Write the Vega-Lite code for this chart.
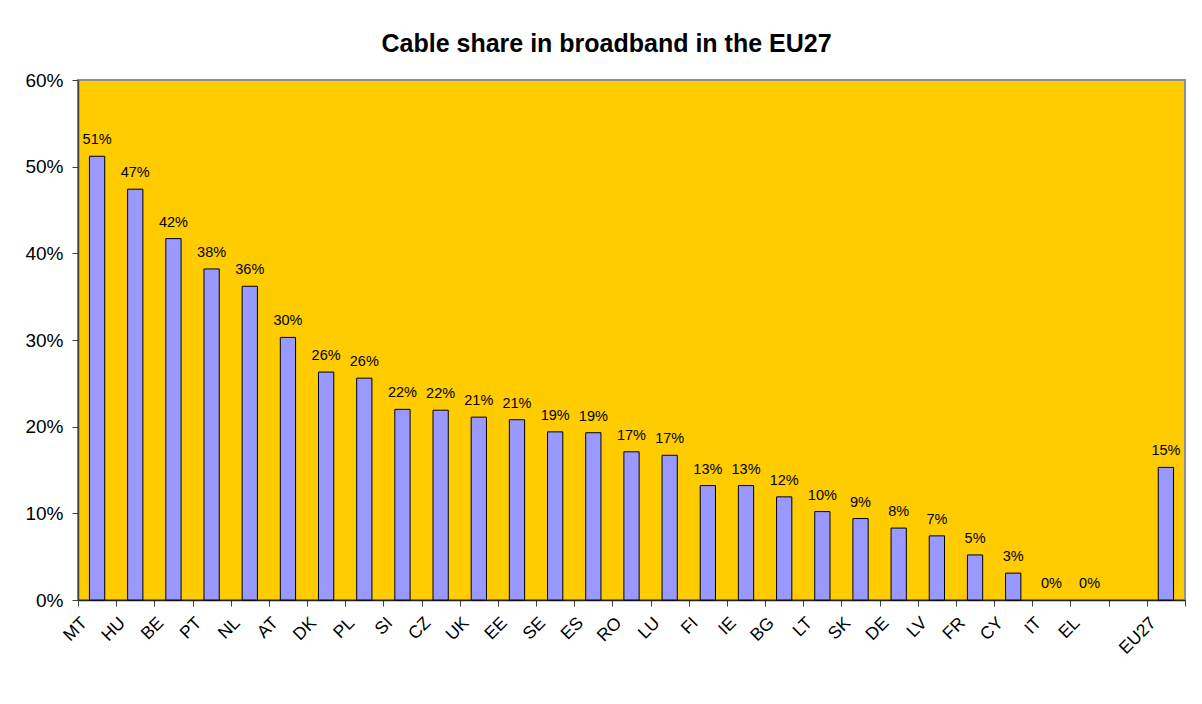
{
  "$schema": "https://vega.github.io/schema/vega-lite/v6.json",
  "width": 1107,
  "height": 520,
  "autosize": {"type": "none"},
  "padding": {"left": 78, "top": 80, "right": 17, "bottom": 104},
  "background": "white",
  "title": {
    "text": "Cable share in broadband in the EU27",
    "font": "Liberation Sans",
    "fontSize": 25,
    "fontWeight": "bold",
    "color": "black",
    "anchor": "middle",
    "dx": -25,
    "offset": 14
  },
  "data": {
    "values": [
      {"country": "MT", "share": 0.512},
      {"country": "HU", "share": 0.474},
      {"country": "BE", "share": 0.417},
      {"country": "PT", "share": 0.382},
      {"country": "NL", "share": 0.362},
      {"country": "AT", "share": 0.303},
      {"country": "DK", "share": 0.263},
      {"country": "PL", "share": 0.256},
      {"country": "SI", "share": 0.220},
      {"country": "CZ", "share": 0.219},
      {"country": "UK", "share": 0.211},
      {"country": "EE", "share": 0.208},
      {"country": "SE", "share": 0.194},
      {"country": "ES", "share": 0.193},
      {"country": "RO", "share": 0.171},
      {"country": "LU", "share": 0.167},
      {"country": "FI", "share": 0.132},
      {"country": "IE", "share": 0.132},
      {"country": "BG", "share": 0.119},
      {"country": "LT", "share": 0.102},
      {"country": "SK", "share": 0.094},
      {"country": "DE", "share": 0.083},
      {"country": "LV", "share": 0.074},
      {"country": "FR", "share": 0.052},
      {"country": "CY", "share": 0.031},
      {"country": "IT", "share": 0.0},
      {"country": "EL", "share": 0.0},
      {"country": "EU27", "share": 0.153}
    ]
  },
  "encoding": {
    "x": {
      "field": "country",
      "type": "nominal",
      "sort": null,
      "scale": {
        "domain": ["MT","HU","BE","PT","NL","AT","DK","PL","SI","CZ","UK","EE","SE","ES","RO","LU","FI","IE","BG","LT","SK","DE","LV","FR","CY","IT","EL"," ","EU27"],
        "paddingInner": 0,
        "paddingOuter": 0
      },
      "axis": {
        "title": null,
        "labelAngle": -45,
        "labelAlign": "right",
        "labelBaseline": "middle",
        "labelFont": "Liberation Sans",
        "labelFontSize": 17.5,
        "labelColor": "black",
        "labelPadding": 14,
        "labelOffset": -13,
        "tickOffset": 0,
        "tickBand": "extent",
        "tickSize": 6,
        "tickColor": "#404040",
        "domainColor": "#202020",
        "domainWidth": 1.5
      }
    },
    "y": {
      "field": "share",
      "type": "quantitative",
      "scale": {"domain": [0, 0.6]},
      "axis": {
        "title": null,
        "format": ".0%",
        "values": [0, 0.1, 0.2, 0.3, 0.4, 0.5, 0.6],
        "grid": false,
        "labelFont": "Liberation Sans",
        "labelFontSize": 19,
        "labelColor": "black",
        "labelPadding": 9,
        "tickSize": 6,
        "tickColor": "#404040",
        "domainColor": "#404040",
        "domainWidth": 1.5
      }
    }
  },
  "layer": [
    {
      "mark": {"type": "bar", "fill": "#9999FF", "stroke": "black", "strokeWidth": 1, "width": {"band": 0.4}},
      "encoding": {
        "strokeOpacity": {"condition": {"test": "datum.share > 0", "value": 1}, "value": 0}
      }
    },
    {
      "mark": {"type": "text", "baseline": "bottom", "dy": -9, "font": "Liberation Sans", "fontSize": 14.5, "color": "black"},
      "encoding": {
        "text": {"field": "share", "type": "quantitative", "format": ".0%"}
      }
    }
  ],
  "config": {
    "view": {"fill": "#FFCC00", "stroke": "#909090", "strokeWidth": 2}
  }
}
